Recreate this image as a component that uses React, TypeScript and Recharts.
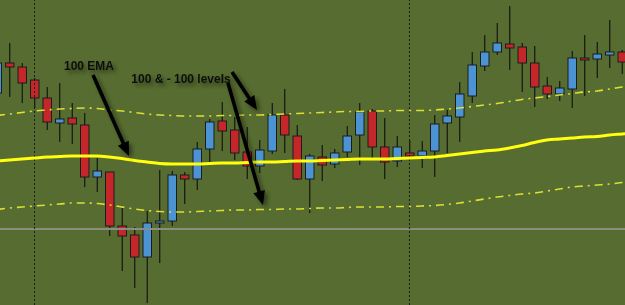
import React from "react";
import {
  ComposedChart,
  Bar,
  Line,
  XAxis,
  YAxis,
  ReferenceLine,
  ReferenceDot,
} from "recharts";

// Candles (index = bar number), price units = chart level
const opens = [212, 242, 238, 225, 207, 182, 187, 180, 128, 133, 79, 70, 48, 82, 84, 130, 126, 156, 184, 175, 153, 139, 154, 190, 169, 126, 148, 141, 153, 170, 194, 158, 144, 152, 149, 154, 182, 188, 209, 239, 253, 261, 258, 242, 219, 211, 216, 247, 246, 250, 253];
const highs = [250, 262, 242, 227, 218, 222, 202, 192, 147, 133, 97, 78, 94, 135, 134, 133, 163, 186, 203, 188, 178, 165, 202, 216, 180, 151, 160, 156, 179, 202, 196, 187, 169, 165, 164, 190, 195, 223, 253, 270, 282, 299, 262, 259, 228, 224, 254, 270, 263, 285, 255];
const lows = [205, 208, 202, 197, 175, 163, 161, 118, 113, 69, 34, 17, 2, 42, 79, 101, 115, 143, 154, 145, 126, 132, 151, 152, 125, 92, 124, 137, 148, 140, 145, 126, 138, 148, 137, 128, 152, 163, 202, 234, 250, 235, 213, 198, 206, 204, 197, 209, 227, 237, 231];
const closes = [242, 238, 222, 207, 183, 186, 181, 128, 134, 79, 69, 48, 82, 84, 130, 126, 156, 183, 174, 152, 139, 155, 190, 170, 126, 149, 140, 152, 169, 193, 158, 143, 158, 149, 154, 181, 189, 211, 240, 253, 262, 257, 242, 218, 211, 217, 247, 245, 251, 253, 243];

// 100 EMA and the +100 / -100 level lines
const ema = [144, 145, 146, 147, 148, 148.5, 149, 149, 149, 148, 146.5, 144.5, 143, 141.5, 141, 141, 141, 141.5, 142, 142, 142.5, 143, 143, 143.5, 144, 144, 144.5, 145, 145.5, 146, 146, 146, 146.5, 147, 147.5, 148, 149.5, 151, 152.5, 154, 155, 157, 159.5, 162.5, 165, 166, 167, 168, 168.5, 170, 171, 172];
const upper = [189.5, 191, 192.5, 194, 195, 196, 196.5, 197, 196.5, 195, 194, 192.5, 191, 190, 189.5, 189, 189, 189, 189.5, 189.5, 190, 190, 190.5, 191, 191.5, 192, 192.5, 193, 193.5, 193.5, 194, 194, 194.5, 194.5, 194.5, 195, 196, 197, 198.5, 200, 201.5, 203.5, 205.5, 207, 208.5, 210, 211.5, 213, 214, 216, 218, 220];
const lower = [95.5, 97, 98, 99, 100, 101, 102, 102, 101.5, 100, 98, 96, 94.5, 93.5, 93, 93, 93.5, 94, 94.5, 95, 95, 95.5, 95.5, 96, 96, 96.5, 97, 97, 97.5, 98, 98, 98, 98.5, 98.5, 99, 99.5, 100.5, 102, 104, 106, 108, 109.5, 111, 112, 114, 116, 118, 119, 120, 121, 122.5, 124];

const separators = [3, 33];
const grayLevel = 76;

const noteTexts = ["100 EMA", "100 & - 100 levels"];
const noteK = [7.36, 14.72];
const noteP = [239, 226];

const arrowFromK = [7.68, 18.8, 18.48];
const arrowFromP = [230, 233, 222];
const arrowToK = [10.56, 20.8, 21.28];
const arrowToP = [149, 195, 100];

const data = ema.map((e, k) => {
  const hasCandle = k < opens.length;
  return {
    k,
    open: hasCandle ? opens[k] : null,
    high: hasCandle ? highs[k] : null,
    low: hasCandle ? lows[k] : null,
    close: hasCandle ? closes[k] : null,
    range: hasCandle ? [lows[k], highs[k]] : null,
    ema: e,
    upper: upper[k],
    lower: lower[k],
  };
});

const BG = "#566c30";
const RED = "#c4262a";
const BLUE = "#4b93d3";

const Candle = (props: any) => {
  const { x, y, width, height, payload } = props;
  if (!payload || payload.open == null || height == null) return <g />;
  const { open, close, high, low } = payload;
  const cx = x + width / 2;
  const span = high - low || 1;
  const py = (p: number) => y + ((high - p) / span) * height;
  const top = py(Math.max(open, close));
  const bot = py(Math.min(open, close));
  const bull = close >= open;
  const bw = 8.5;
  return (
    <g>
      <line x1={cx} x2={cx} y1={y} y2={y + height} stroke="#101010" strokeWidth={1.1} />
      <rect
        x={cx - bw / 2}
        y={top}
        width={bw}
        height={Math.max(bot - top, 1.5)}
        fill={bull ? BLUE : RED}
        stroke="#1c1c1c"
        strokeWidth={1}
      />
    </g>
  );
};

const ArrowShape = (props: any) => {
  const { x1, y1, x2, y2 } = props;
  if (x1 == null) return <g />;
  const dx = x2 - x1;
  const dy = y2 - y1;
  const len = Math.hypot(dx, dy) || 1;
  const ux = dx / len;
  const uy = dy / len;
  const head = 14;
  const hw = 6;
  const bx = x2 - ux * head;
  const by = y2 - uy * head;
  const pts = `${x2},${y2} ${bx - uy * hw},${by + ux * hw} ${bx + uy * hw},${by - ux * hw}`;
  return (
    <g filter="url(#annShadow)">
      <line x1={x1} y1={y1} x2={bx + ux * 2} y2={by + uy * 2} stroke="#050505" strokeWidth={3.6} />
      <polygon points={pts} fill="#050505" />
    </g>
  );
};

const makeNote = (text: string) => (props: any) => {
  const { cx, cy } = props;
  return (
    <text
      x={cx}
      y={cy}
      textAnchor="middle"
      dominantBaseline="central"
      fontFamily="'Liberation Sans', Arial, sans-serif"
      fontWeight="bold"
      fontSize={12}
      fill="#111"
      filter="url(#annShadow)"
    >
      {text}
    </text>
  );
};

export default function App() {
  return (
    <div
      style={{
        position: "absolute",
        left: 0,
        top: 0,
        width: 625,
        height: 305,
        background: BG,
        overflow: "hidden",
      }}
    >
      <svg width={0} height={0} style={{ position: "absolute" }}>
        <defs>
          <filter id="annShadow" x="-50%" y="-50%" width="200%" height="200%">
            <feDropShadow dx={3} dy={3} stdDeviation={2} floodColor="#000" floodOpacity={0.45} />
          </filter>
        </defs>
      </svg>
      <ComposedChart
        width={625}
        height={305}
        data={data}
        margin={{ top: 0, right: 0, bottom: 0, left: 0 }}
      >
        <XAxis
          dataKey="k"
          type="number"
          domain={[0.24, 50.24]}
          allowDataOverflow
          hide
        />
        <YAxis type="number" domain={[0, 305]} allowDataOverflow hide />
        <ReferenceLine y={grayLevel} stroke="#8a8d80" strokeWidth={2} ifOverflow="visible" />
        {separators.map((s) => (
          <ReferenceLine key={s} x={s} stroke="#1a1a1a" strokeWidth={1} strokeDasharray="2 2" ifOverflow="visible" />
        ))}
        <Bar dataKey="range" barSize={9} shape={<Candle />} isAnimationActive={false} />
        <Line
          type="monotone"
          dataKey="upper"
          stroke="#dcdf35"
          strokeWidth={1.6}
          strokeDasharray="8 5 2 5"
          dot={false}
          activeDot={false}
          isAnimationActive={false}
        />
        <Line
          type="monotone"
          dataKey="lower"
          stroke="#dcdf35"
          strokeWidth={1.6}
          strokeDasharray="8 5 2 5"
          dot={false}
          activeDot={false}
          isAnimationActive={false}
        />
        <Line
          type="monotone"
          dataKey="ema"
          stroke="#ffff10"
          strokeWidth={3}
          dot={false}
          activeDot={false}
          isAnimationActive={false}
        />
        {arrowFromK.map((fk, i) => (
          <ReferenceLine
            key={"a" + i}
            segment={[
              { x: fk, y: arrowFromP[i] },
              { x: arrowToK[i], y: arrowToP[i] },
            ]}
            ifOverflow="visible"
            shape={ArrowShape}
          />
        ))}
        {noteTexts.map((t, i) => (
          <ReferenceDot
            key={"n" + i}
            x={noteK[i]}
            y={noteP[i]}
            r={0}
            ifOverflow="visible"
            shape={makeNote(t)}
          />
        ))}
      </ComposedChart>
    </div>
  );
}
